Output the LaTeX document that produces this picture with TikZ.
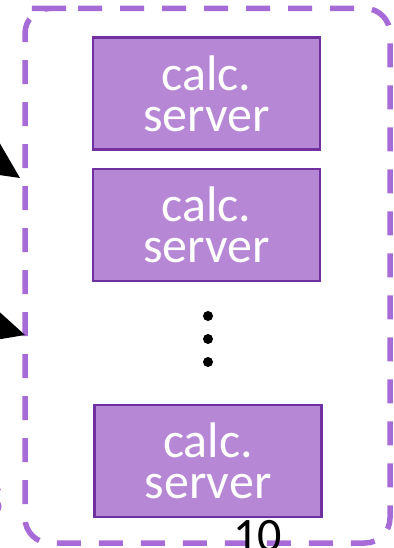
\documentclass[tikz,border=0pt]{standalone}
\usepackage{fontspec}
\setmainfont{Carlito}
\usepackage{tikz}
\usetikzlibrary{positioning,arrows.meta}
\definecolor{srvfill}{RGB}{182,135,213}
\definecolor{srvline}{RGB}{112,48,160}
\definecolor{grpline}{RGB}{167,107,216}

\begin{document}
\begin{tikzpicture}[x=1pt,y=-1pt,
    server/.style={draw=srvline,line width=2.5pt,fill=srvfill,text=white,minimum width=227pt,minimum height=112pt,inner sep=0pt,align=center,font=\fontsize{50}{41}\selectfont},
    group/.style={draw=grpline,line width=5.5pt,dash pattern=on 24pt off 18pt,rounded corners=25pt},
    link/.style={line width=3pt,-{Triangle[length=40pt,width=38pt]}}]
      \useasboundingbox (0,0) rectangle (393,548);
      \draw[group] (53,8.5) -- (390,8.5) -- (390,543) -- (25,543) -- (25,8.5) -- cycle;
      \node[server](srv1) at (206.5,93.5){calc.\\server};
      \node[server,below=17pt of srv1](srv2){calc.\\server};
      \foreach \y in {316,339,362}
        \fill (208,\y) circle (5pt);
      \node[server](srv3) at (208,461){calc.\\server};
      \coordinate (from1) at (-63,122);
      \coordinate (to1) at (20,178);
      \coordinate (from2) at (-71,307);
      \coordinate (to2) at (25,335);
      \draw[link] (from1) -- (to1);
      \draw[link] (from2) -- (to2);
      \node[text=grpline,font=\fontsize{60}{72}\selectfont,anchor=base east](lbl) at (8,515){s};
      \node[font=\fontsize{48}{58}\selectfont,anchor=base](pg) at (257.5,551){10};
    \end{tikzpicture}
\end{document}
